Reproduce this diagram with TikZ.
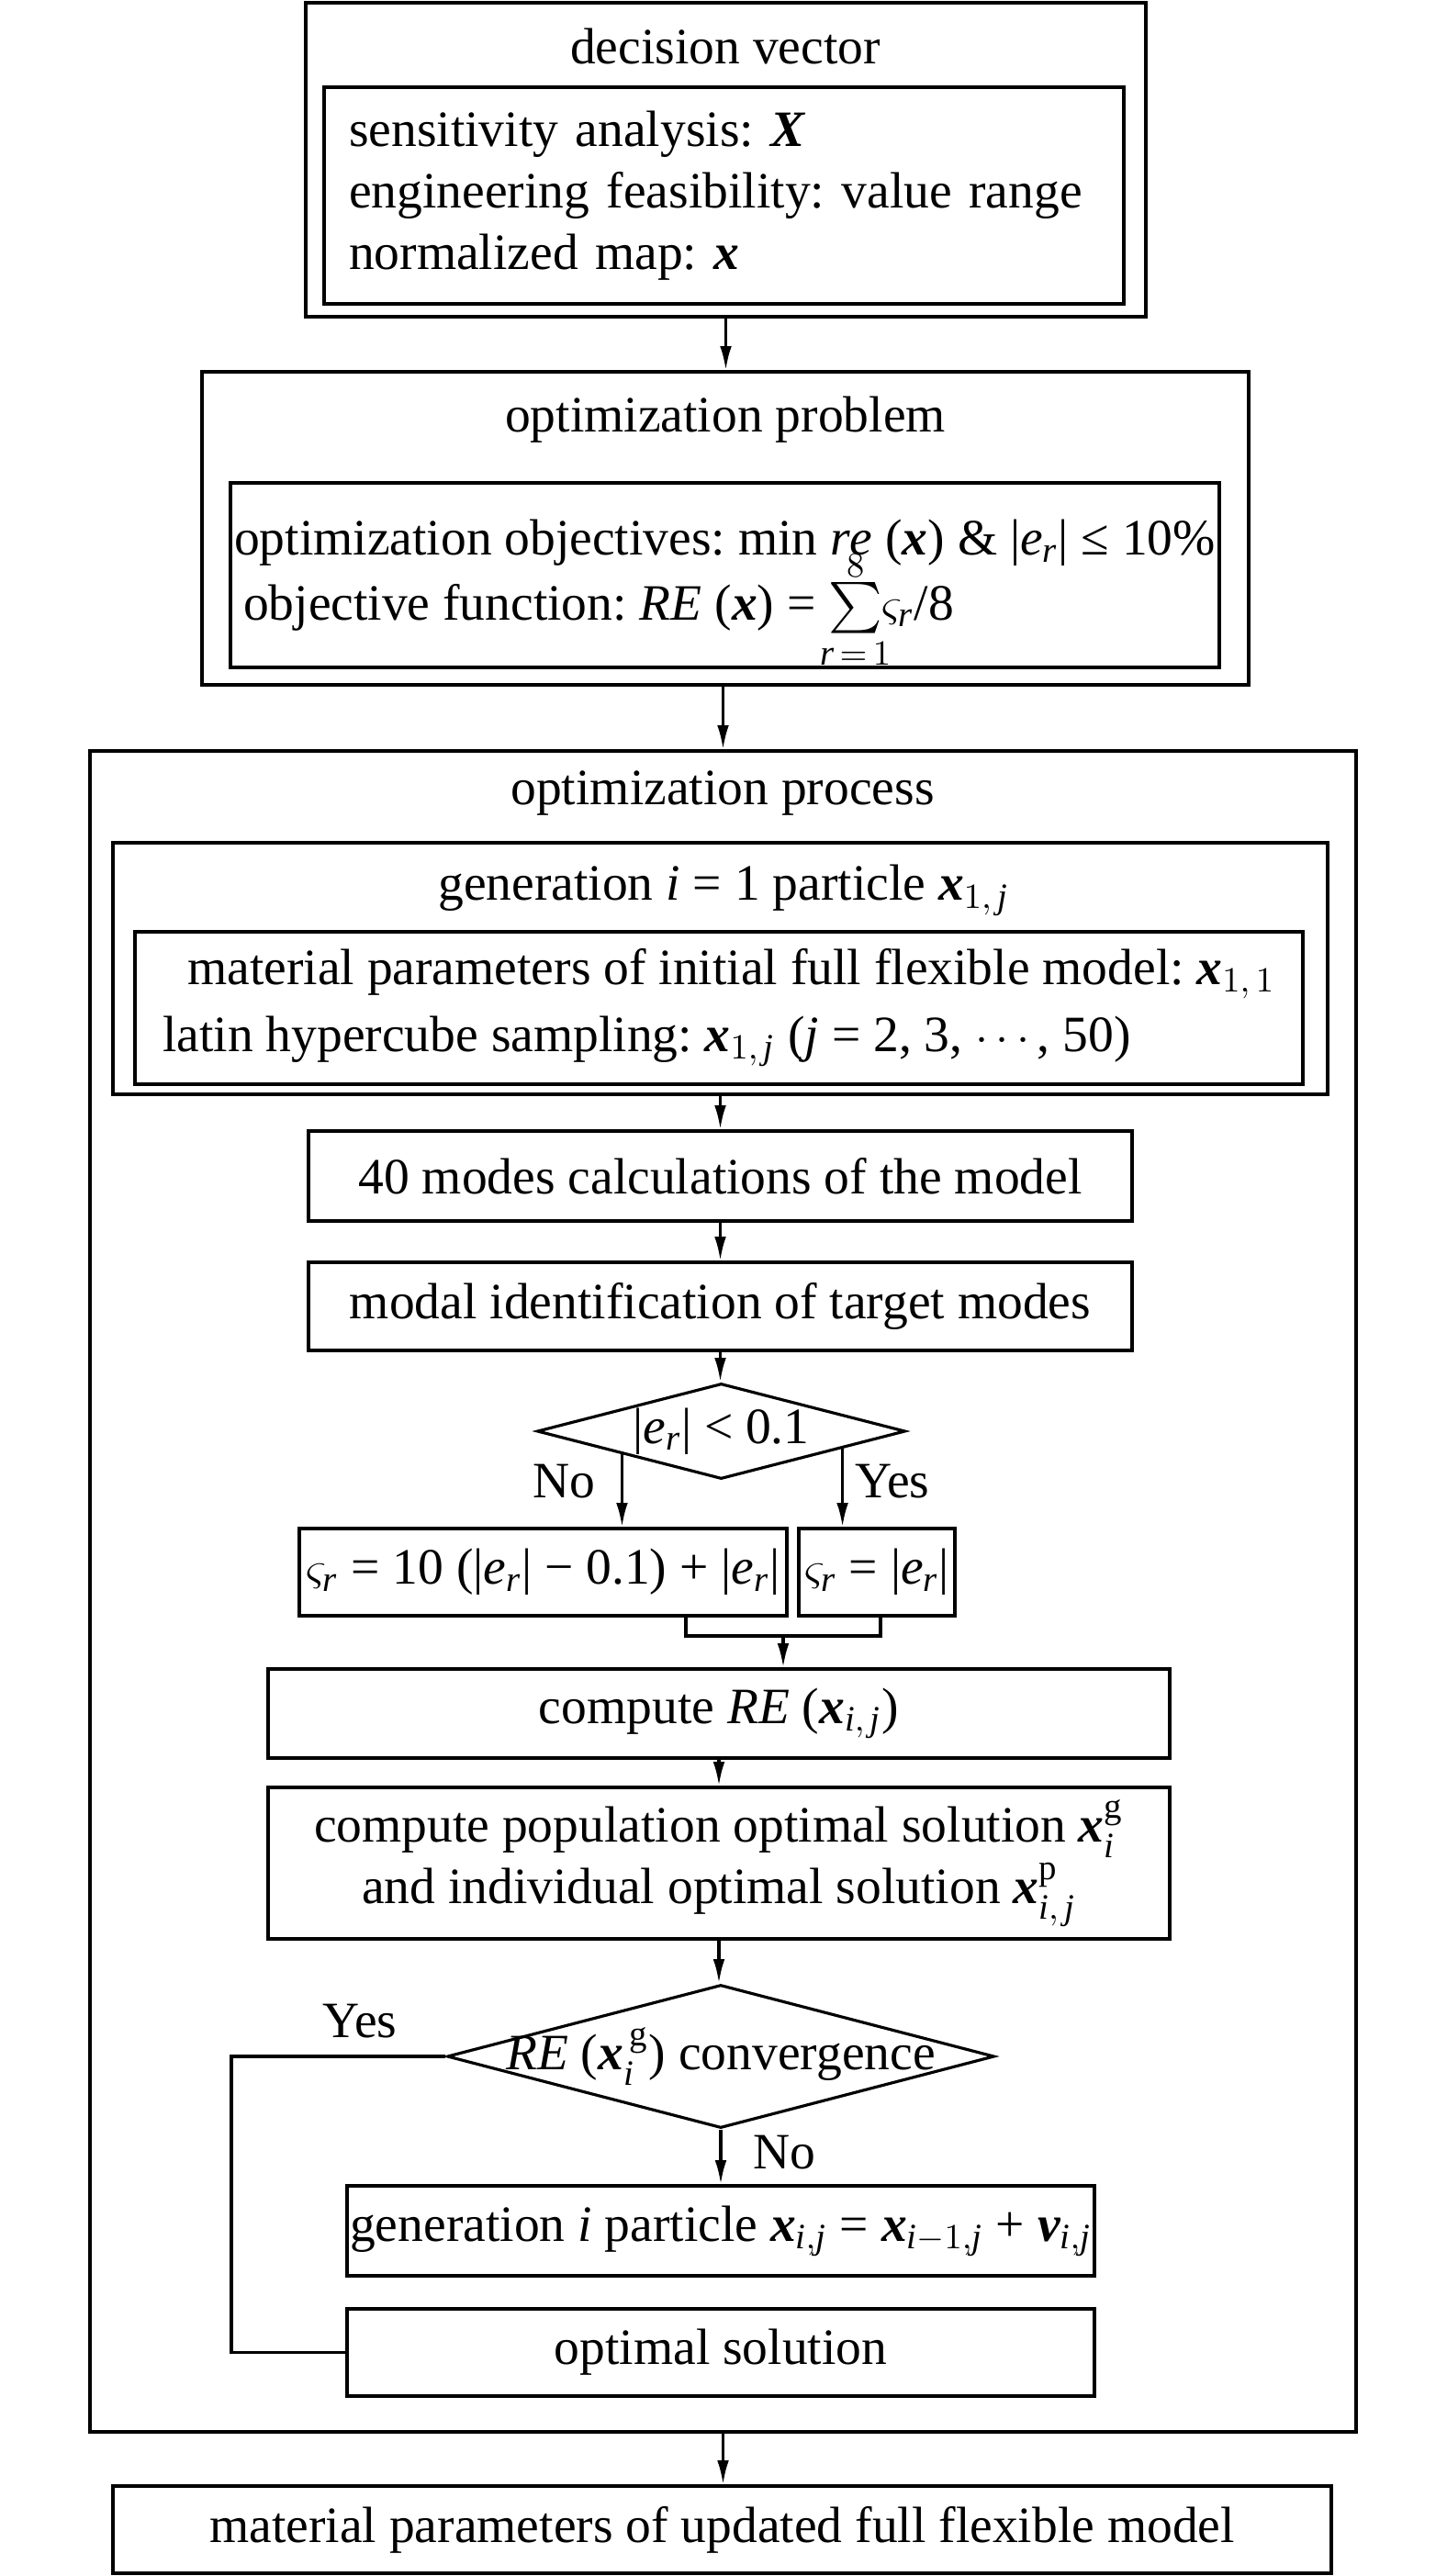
\documentclass[tikz,border=0pt]{standalone}
\usepackage{amsmath}
\usepackage{amssymb}
\usepackage{fontspec}
\setmainfont{Liberation Serif}
\usetikzlibrary{arrows.meta,shapes.geometric}
\newcommand{\bi}[1]{\text{\bfseries\itshape #1}}
\newcommand{\er}{\mathit{e}_{\mathit{r}}}
\frenchspacing

\begin{document}
\begin{tikzpicture}[>={Latex[length=7.5pt,width=3.6pt]},line width=0.9pt,
        every node/.style={font=\fontsize{15.8}{19}\selectfont},
        box/.style={draw,rectangle,inner sep=0pt},
        choice/.style={draw,diamond,inner sep=0pt,shape aspect=4}]
        \useasboundingbox (0,0) rectangle (15.75,-28.06);
        % decision vector
        \node[box,minimum width=9.15cm,minimum height=3.42cm] (dv) at (7.905,-1.74) {};
        \node (dvt) at (7.90,-0.51) {decision vector};
        \node[box,minimum width=8.71cm,minimum height=2.36cm,text width=8.17cm,align=left] (dvin) at (7.885,-2.13) {sensitivity analysis: $\bi{X}$\\engineering feasibility: value range\\normalized map: $\bi{x}$};
        % optimization problem
        \node[box,minimum width=11.40cm,minimum height=3.41cm] (op) at (7.90,-5.755) {};
        \node (opt) at (7.90,-4.57) {optimization problem};
        \node[box,minimum width=10.77cm,minimum height=2.01cm,align=left] (opin) at (7.895,-6.265) {optimization objectives: min $\mathit{re}$ ($\bi{x}$) \& |$\er$| ≤ 10\%\\[0.04cm]\hspace*{0.1cm}objective function: $\mathit{RE}$ ($\bi{x}$) = $\smash{\sum\limits_{\makebox[0pt]{$\scriptstyle\mathit{r}\,=\,1$}}^{\raisebox{-0.3em}{$\scriptstyle 8$}}}\varsigma_{\mathit{r}}$/8};
        % optimization process
        \node[box,minimum width=13.79cm,minimum height=18.31cm] (pr) at (7.875,-17.335) {};
        \node (prt) at (7.87,-8.64) {optimization process};
        \node[box,minimum width=13.23cm,minimum height=2.74cm] (gen) at (7.845,-10.55) {};
        \node (gent) at (7.88,-9.70) {generation $\mathit{i}$ = 1 particle $\bi{x}_{1,\,\mathit{j}}$};
        \node[box,minimum width=12.72cm,minimum height=1.66cm,align=left] (genin) at (7.83,-10.98) {\hspace*{0.27cm}material parameters of initial full flexible model: $\bi{x}_{1,\,1}$\\[0.06cm]latin hypercube sampling: $\bi{x}_{1,\,\mathit{j}}$ ($\mathit{j}$ = 2, 3, $\cdots$, 50)};
        \node[box,minimum width=8.97cm,minimum height=0.98cm] (mc) at (7.845,-12.81) {40 modes calculations of the model};
        \node[box,minimum width=8.97cm,minimum height=0.96cm] (mi) at (7.845,-14.23) {modal identification of target modes};
        \node[choice,minimum width=4.01cm,minimum height=1.04cm] (c1) at (7.855,-15.59) {\makebox[0pt]{|$\er$| < 0.1}};
        \node[box,minimum width=5.31cm,minimum height=0.95cm] (lb) at (5.915,-17.125) {$\varsigma_{\mathit{r}}$ = 10 (|$\er$| − 0.1) + |$\er$|};
        \node[box,minimum width=1.70cm,minimum height=0.95cm] (rb) at (9.55,-17.125) {$\varsigma_{\mathit{r}}$ = |$\er$|};
        \node (no1) at (6.14,-16.14) {No};
        \node (yes1) at (9.72,-16.14) {Yes};
        \coordinate (jl) at (7.47,-17.82);
        \coordinate (jr) at (9.59,-17.82);
        \coordinate (jm) at (8.53,-17.82);
        \node[box,minimum width=9.82cm,minimum height=0.97cm] (cre) at (7.83,-18.665) {compute $\mathit{RE}$ ($\bi{x}_{\mathit{i},\,\mathit{j}}$)};
        \node[box,minimum width=9.82cm,minimum height=1.65cm,align=center] (pop) at (7.83,-20.295) {compute population optimal solution $\bi{x}_{\mathit{i}}^{\mathrm{g}}$\\and individual optimal solution $\bi{x}_{\mathit{i},\,\mathit{j}}^{\mathrm{p}}$};
        \node[choice,minimum width=5.96cm,minimum height=1.56cm] (c2) at (7.85,-22.40) {\makebox[0pt]{$\mathit{RE}$ ($\bi{x}_{\mathit{i}}^{\,\mathrm{g}}$) convergence}};
        \node (yes2) at (3.92,-22.02) {Yes};
        \node (no2) at (8.54,-23.45) {No};
        \coordinate (loopx) at (2.52,-22.40);
        \node[box,minimum width=8.14cm,minimum height=0.98cm] (geni) at (7.85,-24.30) {generation $\mathit{i}$ particle $\bi{x}_{\mathit{i},\mathit{j}}$ = $\bi{x}_{\mathit{i}-1,\mathit{j}}$ + $\bi{v}_{\mathit{i},\mathit{j}}$};
        \node[box,minimum width=8.14cm,minimum height=0.95cm] (opts) at (7.85,-25.625) {optimal solution};
        % result
        \node[box,minimum width=13.27cm,minimum height=0.95cm] (fin) at (7.865,-27.555) {material parameters of updated full flexible model};
        % connectors
        \draw[->] (dv.south) -- (dv.south |- op.north);
        \draw[->] (op.south -| pr.north) -- (pr.north);
        \draw[->] (gen.south) -- (gen.south |- mc.north);
        \draw[->] (mc) -- (mi);
        \draw[->] (mi.south) -- (mi.south |- c1.north);
        \draw[->] (c1.193) -- (c1.193 |- lb.north);
        \draw[->] (c1.-8) -- (c1.-8 |- rb.north);
        \draw (lb.south -| jl) -- (jl) -- (jr) -- (rb.south -| jr);
        \draw[->] (jm) -- (jm |- cre.north);
        \draw[->] (cre) -- (pop);
        \draw[->] (pop.south) -- (pop.south |- c2.north);
        \draw[->] (c2.south) -- (geni.north);
        \draw (c2.west) -- (loopx) |- (opts.west);
        \draw[->] (pr.south) -- (pr.south |- fin.north);
\end{tikzpicture}
\end{document}
